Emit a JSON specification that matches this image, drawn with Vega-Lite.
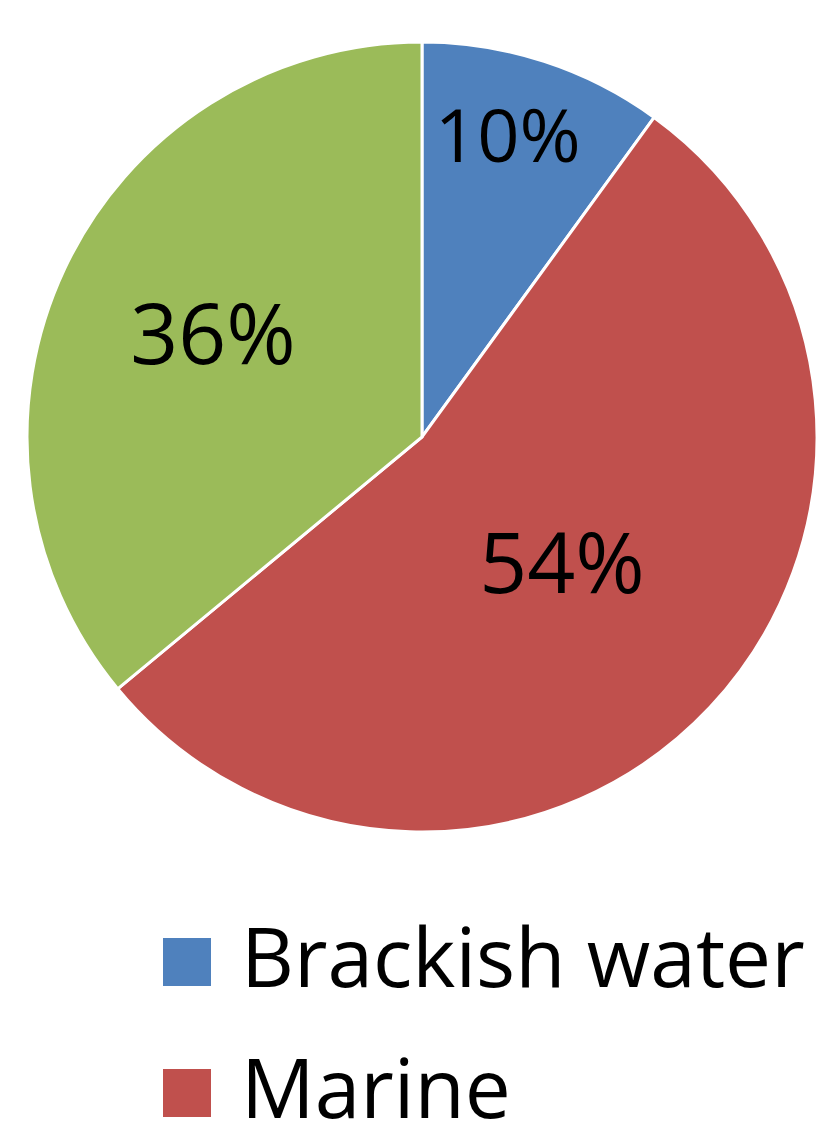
{
  "$schema": "https://vega.github.io/schema/vega-lite/v6.json",
  "width": 788,
  "height": 790,
  "autosize": {"type": "none"},
  "padding": {"left": 28, "top": 42, "right": 0, "bottom": 292},
  "background": "white",
  "config": {"view": {"stroke": null}},
  "data": {
    "values": [
      {"category": "Brackish water", "share": 10, "order": 1, "label": "10%"},
      {"category": "Marine", "share": 54, "order": 2, "label": "54%"},
      {"category": "Freshwater", "share": 36, "order": 3, "label": "36%"}
    ]
  },
  "encoding": {
    "theta": {"field": "share", "type": "quantitative", "stack": true},
    "order": {"field": "order", "type": "quantitative"}
  },
  "layer": [
    {
      "mark": {"type": "arc", "outerRadius": 395, "stroke": "white", "strokeWidth": 3},
      "encoding": {
        "color": {
          "field": "category",
          "type": "nominal",
          "scale": {
            "domain": ["Brackish water", "Marine", "Freshwater"],
            "range": ["#4F81BD", "#C0504D", "#9BBB59"]
          },
          "legend": {
            "orient": "none",
            "legendX": 118,
            "legendY": 879,
            "title": null,
            "padding": 0,
            "symbolType": "square",
            "symbolSize": 2304,
            "symbolStrokeWidth": 0,
            "labelFontSize": 82,
            "labelFont": "Open Sans",
            "labelColor": "black",
            "labelOffset": 13,
            "labelLimit": 0,
            "rowPadding": 49
          }
        }
      }
    },
    {
      "mark": {"type": "text", "radius": 309, "thetaOffset": -0.033, "fontSize": 74, "font": "Open Sans", "color": "black"},
      "encoding": {
        "text": {"condition": {"test": "datum.category === 'Brackish water'", "field": "label"}, "value": ""}
      }
    },
    {
      "mark": {"type": "text", "radius": 192, "fontSize": 84, "font": "Open Sans", "color": "black"},
      "encoding": {
        "text": {"condition": {"test": "datum.category === 'Marine'", "field": "label"}, "value": ""}
      }
    },
    {
      "mark": {"type": "text", "radius": 231, "fontSize": 84, "font": "Open Sans", "color": "black"},
      "encoding": {
        "text": {"condition": {"test": "datum.category === 'Freshwater'", "field": "label"}, "value": ""}
      }
    }
  ]
}
